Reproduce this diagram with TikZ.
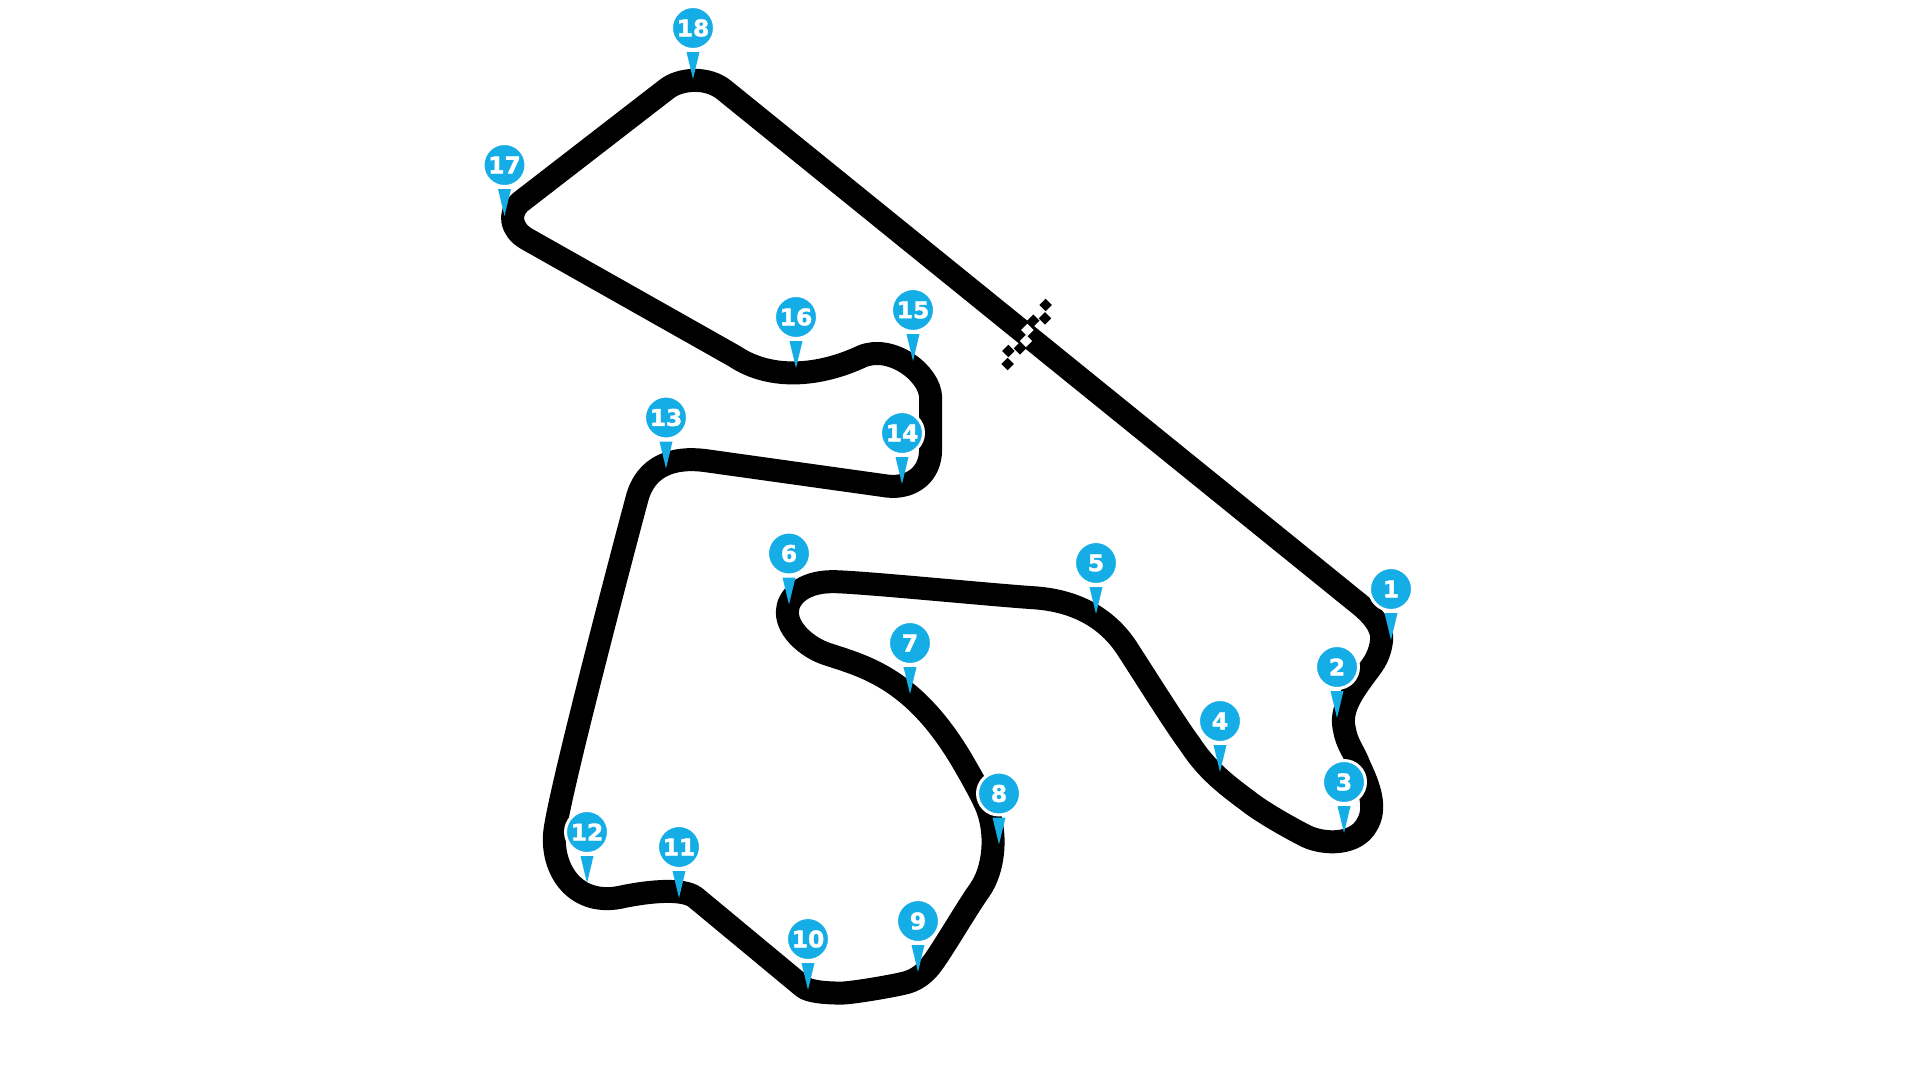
\documentclass[tikz,border=0pt]{standalone}
\usepackage{fontspec}
\setmainfont{DejaVu Sans}
\newfontfamily\pinfont[FakeBold=1.5]{DejaVu Sans Bold}
\definecolor{pinblue}{HTML}{14ADE6}
\tikzset{
  track/.style={draw=black,line width=23pt,line join=round},
  pinhead/.style={circle,fill=pinblue,draw=white,line width=3pt,minimum size=43pt,inner sep=0pt,text=white,font=\fontsize{23}{23}\pinfont},
  pintip/.style={fill=pinblue,draw=none},
  flagblack/.style={fill=black,draw=none},
  flagwhite/.style={fill=white,draw=none}
}
\newcommand{\pinmark}[3]{%
  \node[pinhead] (p#1) at (#2,#3) {\scalebox{1.02}[1]{#1}};
  \fill[pintip] ([xshift=-6.5pt,yshift=-24pt]p#1.center) -- ([xshift=6.5pt,yshift=-24pt]p#1.center) -- ([yshift=-51pt]p#1.center) -- cycle;
}
\newcommand{\flagcell}[3]{%
  \fill[#1] (950+#2/3,270+#3/3) ++(6.2,0) -- ++(-6.2,6.2) -- ++(-6.2,-6.2) -- ++(6.2,-6.2) -- cycle;
}
\begin{document}
\begin{tikzpicture}[x=1pt,y=-1pt]
\useasboundingbox (0,0) rectangle (1920,1080);
\fill[white] (0,0) rectangle (1920,1080);
\begin{scope}[x=1.2245pt,y=-1.2245pt]
\draw[track] (592,74) -- (1112,495)
 .. controls (1125,506) and (1130,516) .. (1128,525)
 .. controls (1126,538) and (1120,544) .. (1115,551)
 .. controls (1104,566) and (1094,580) .. (1098,596)
 .. controls (1100,608) and (1106,614) .. (1110,625)
 .. controls (1118,642) and (1125,660) .. (1116,674)
 .. controls (1107,690) and (1082,690) .. (1067,683)
 .. controls (1055,677) and (1030,663) .. (1019,654)
 .. controls (1000,640) and (985,628) .. (972,608)
 .. controls (960,592) and (935,552) .. (922,532)
 .. controls (906,506) and (880,490) .. (842,488)
 .. controls (800,485) and (700,475) .. (680,475)
 .. controls (655,475) and (643,488) .. (643,500)
 .. controls (643,515) and (660,529) .. (675,534)
 .. controls (705,544) and (745,553) .. (785,620)
 .. controls (792,632) and (800,646) .. (805,657)
 .. controls (815,680) and (812,710) .. (800,727)
 .. controls (790,741) and (772,772) .. (762,786)
 .. controls (755,796) and (747,801) .. (738,803)
 .. controls (725,806) and (695,811) .. (687,811)
 .. controls (675,811) and (661,810) .. (656,806)
 -- (568,733)
 .. controls (558,725) and (530,728) .. (510,732)
 .. controls (470,742) and (450,710) .. (453,680)
 .. controls (456,650) and (510,445) .. (520,408)
 .. controls (527,380) and (550,373) .. (575,376)
 -- (725,397)
 .. controls (745,399) and (760,387) .. (760,367)
 -- (760,325)
 .. controls (760,305) and (728,281) .. (704,291)
 .. controls (670,307) and (630,311) .. (600,291)
 -- (430,195)
 .. controls (418,188) and (414,175) .. (425,165)
 -- (544,73)
 .. controls (555,64) and (578,62) .. (592,74) -- cycle;
\end{scope}
\flagcell{flagblack}{287}{105}
\flagcell{flagblack}{285}{145}
\flagcell{flagblack}{250}{152}
\flagcell{flagwhite}{232}{180}
\flagcell{flagwhite}{228}{213}
\flagcell{flagblack}{210}{235}
\flagcell{flagblack}{175}{243}
\flagcell{flagblack}{173}{282}
\pinmark{1}{1391}{589}
\pinmark{2}{1337}{667}
\pinmark{3}{1344}{782}
\pinmark{4}{1220}{721}
\pinmark{5}{1096}{563}
\pinmark{6}{789}{553.5}
\pinmark{7}{910}{643}
\pinmark{8}{999}{793.5}
\pinmark{9}{918}{921}
\pinmark{10}{808}{939}
\pinmark{11}{679}{847}
\pinmark{12}{587}{832}
\pinmark{13}{666}{417.5}
\pinmark{14}{902}{433}
\pinmark{15}{913}{310}
\pinmark{16}{796}{317}
\pinmark{17}{504.5}{165}
\pinmark{18}{693}{28}
\end{tikzpicture}
\end{document}
